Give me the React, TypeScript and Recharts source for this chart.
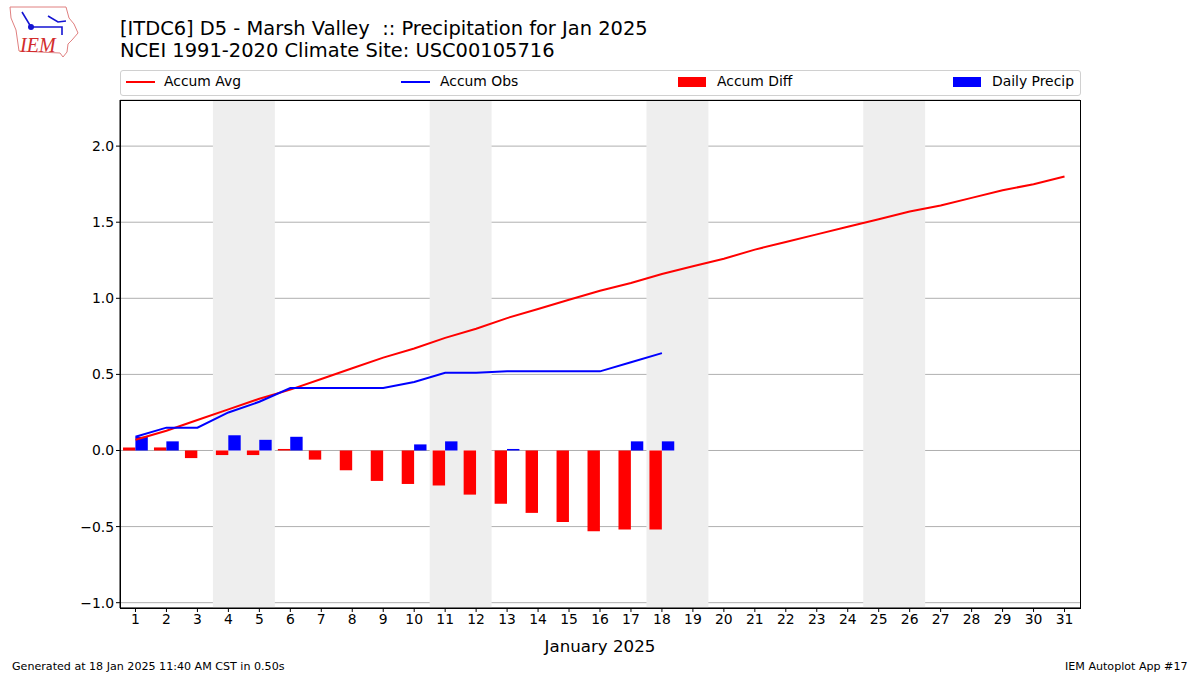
import {
  ComposedChart,
  Bar,
  Line,
  XAxis,
  YAxis,
  CartesianGrid,
  ReferenceArea,
} from "recharts";

const days = [
  "1", "2", "3", "4", "5", "6", "7", "8", "9", "10", "11", "12", "13", "14", "15", "16",
  "17", "18", "19", "20", "21", "22", "23", "24", "25", "26", "27", "28", "29", "30", "31",
];
const accumAvg = [
  0.07, 0.13, 0.2, 0.27, 0.34, 0.4, 0.47, 0.54, 0.61, 0.67, 0.74, 0.8, 0.87, 0.93, 0.99, 1.05,
  1.1, 1.16, 1.21, 1.26, 1.32, 1.37, 1.42, 1.47, 1.52, 1.57, 1.61, 1.66, 1.71, 1.75, 1.8,
];
const accumObs = [
  0.09, 0.15, 0.15, 0.25, 0.32, 0.41, 0.41, 0.41, 0.41, 0.45, 0.51, 0.51, 0.52, 0.52, 0.52, 0.52,
  0.58, 0.64,
];
const accumDiff = [
  0.02, 0.02, -0.05, -0.03, -0.03, 0.01, -0.06, -0.13, -0.2, -0.22, -0.23, -0.29, -0.35, -0.41,
  -0.47, -0.53, -0.52, -0.52,
];
const dailyPrecip = [
  0.09, 0.06, 0, 0.1, 0.07, 0.09, 0, 0, 0, 0.04, 0.06, 0, 0.01, 0, 0, 0, 0.06, 0.06,
];
const weekends = [
  ["4", "5"],
  ["11", "12"],
  ["18", "19"],
  ["25", "26"],
];
const yTicks = [-1, -0.5, 0, 0.5, 1, 1.5, 2];

const data = days.map((day, i) => ({
  day,
  avg: accumAvg[i],
  obs: accumObs[i] ?? null,
  diff: accumDiff[i] ?? null,
  precip: dailyPrecip[i] ?? null,
}));

const FONT = "'DejaVu Sans', sans-serif";

const text = (left: number, top: number, size: number, extra = {}) => ({
  position: "absolute" as const,
  left,
  top,
  fontSize: size,
  lineHeight: 1,
  whiteSpace: "pre" as const,
  color: "#000",
  ...extra,
});

const Logo = () => (
  <svg width={90} height={65} style={{ position: "absolute", left: 0, top: 0 }}>
    <path
      d="M10 7 L66 7 L69 18 L74 24 L78 33 L72 40 L68 44 L67 52 L63 57 L60 53 L19 51 L16 30 L11 18 Z"
      fill="none"
      stroke="#e08080"
      strokeWidth={1}
    />
    <path
      d="M22 12 L31 27 L62 27 L62 35 M48 16 L58 22 L66 21 M31 27 L31 27"
      fill="none"
      stroke="#1414d2"
      strokeWidth={1.6}
    />
    <circle cx={31} cy={27} r={3} fill="#1414d2" />
    <text x={20} y={52} fontFamily="'Liberation Serif', serif" fontStyle="italic" fontSize={20} fill="#d22c2c">
      IEM
    </text>
  </svg>
);

const LegendBox = () => (
  <div
    style={{
      position: "absolute",
      left: 120,
      top: 70,
      width: 959,
      height: 24,
      border: "1px solid #d0d0d0",
      borderRadius: 3,
    }}
  >
    <div style={{ position: "absolute", left: 5, top: 10, width: 29, height: 2, background: "#ff0000" }} />
    <div style={text(43, 4, 13.9)}>Accum Avg</div>
    <div style={{ position: "absolute", left: 280, top: 10, width: 29, height: 2, background: "#0000ff" }} />
    <div style={text(319, 4, 13.9)}>Accum Obs</div>
    <div style={{ position: "absolute", left: 557, top: 6, width: 28, height: 10, background: "#ff0000" }} />
    <div style={text(596, 4, 13.9)}>Accum Diff</div>
    <div style={{ position: "absolute", left: 832, top: 6, width: 28, height: 10, background: "#0000ff" }} />
    <div style={text(871, 4, 13.9)}>Daily Precip</div>
  </div>
);

const formatY = (v: number) => (v < 0 ? `\u2212${Math.abs(v).toFixed(1)}` : v.toFixed(1));

export default function App() {
  return (
    <div
      style={{
        position: "absolute",
        left: 0,
        top: 0,
        width: 1200,
        height: 675,
        background: "#fff",
        fontFamily: FONT,
        overflow: "hidden",
      }}
    >
      <ComposedChart
        width={1200}
        height={675}
        data={data}
        margin={{ top: 100, right: 120, bottom: 0, left: 0 }}
        barGap={0}
        barSize={12.4}
      >
        {weekends.map(([from, to]) => (
          <ReferenceArea key={from} x1={from} x2={to} fill="#eeeeee" fillOpacity={1} stroke="none" />
        ))}
        <CartesianGrid vertical={false} stroke="#b0b0b0" strokeWidth={1} />
        <XAxis
          dataKey="day"
          interval={0}
          height={67}
          stroke="#000"
          tickSize={4}
          tick={{ fill: "#000", fontSize: 13.9 }}
          label={{ value: "January 2025", position: "insideBottom", offset: 23, fill: "#000", fontSize: 16.67 }}
        />
        <YAxis
          width={120}
          domain={[-1.035, 2.303]}
          ticks={yTicks}
          tickFormatter={formatY}
          stroke="#000"
          tickSize={4}
          allowDataOverflow
          tick={{ fill: "#000", fontSize: 13.9 }}
          label={{ value: "Precipitation [inch]", angle: -90, position: "center", dx: -498, fill: "#000", fontSize: 16.67 }}
        />
        <Bar dataKey="diff" fill="#ff0000" isAnimationActive={false} />
        <Bar dataKey="precip" fill="#0000ff" isAnimationActive={false} />
        <Line dataKey="avg" stroke="#ff0000" strokeWidth={2} dot={false} isAnimationActive={false} />
        <Line dataKey="obs" stroke="#0000ff" strokeWidth={2} dot={false} isAnimationActive={false} />
      </ComposedChart>

      <div
        style={{
          position: "absolute",
          left: 120,
          top: 100,
          width: 959,
          height: 507,
          border: "1px solid #000",
          pointerEvents: "none",
        }}
      />
      <Logo />
      <div style={text(120, 19, 19.44)}>{"[ITDC6] D5 - Marsh Valley  :: Precipitation for Jan 2025"}</div>
      <div style={text(120, 41, 19.44)}>NCEI 1991-2020 Climate Site: USC00105716</div>
      <LegendBox />
      <div style={text(12, 661, 11.1)}>Generated at 18 Jan 2025 11:40 AM CST in 0.50s</div>
      <div style={text(1065, 661, 11.1)}>IEM Autoplot App #17</div>
    </div>
  );
}
